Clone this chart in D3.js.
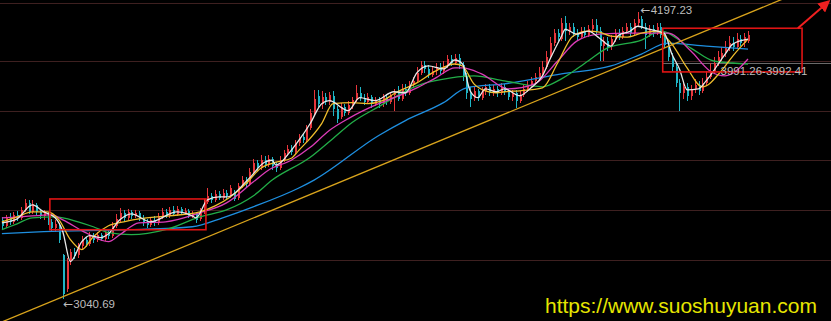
<!DOCTYPE html>
<html lang="zh">
<head>
<meta charset="utf-8">
<script src="https://d3js.org/d3.v7.min.js"></script>
<style>
  body { margin: 0; background: #000; }
  svg { display: block; }
</style>
</head>
<body>
<div id="chart"></div>
<script>
// daily candles (index points)
const open = [
  3360, 3336, 3368, 3352, 3380, 3368, 3400, 3428, 3392, 3420,
  3392, 3376, 3384, 3352, 3328, 3340, 3220, 3080, 3192, 3232,
  3220, 3256, 3280, 3264, 3296, 3280, 3300, 3284, 3312, 3296,
  3336, 3364, 3388, 3368, 3392, 3376, 3388, 3368, 3352, 3340,
  3360, 3348, 3376, 3392, 3376, 3400, 3384, 3404, 3388, 3396,
  3376, 3384, 3364, 3392, 3432, 3456, 3440, 3464, 3448, 3468,
  3456, 3472, 3448, 3496, 3520, 3504, 3552, 3588, 3568, 3600,
  3580, 3604, 3576, 3568, 3600, 3628, 3644, 3632, 3668, 3692,
  3680, 3728, 3792, 3860, 3828, 3856, 3836, 3860, 3808, 3776,
  3816, 3792, 3824, 3844, 3872, 3852, 3836, 3856, 3828, 3844,
  3828, 3856, 3836, 3864, 3872, 3848, 3888, 3872, 3904, 3920,
  3952, 3984, 3968, 3944, 3960, 3976, 3960, 3980, 4008, 3992,
  4012, 3984, 3940, 3872, 3852, 3880, 3852, 3880, 3896, 3872,
  3888, 3872, 3896, 3876, 3856, 3872, 3840, 3864, 3888, 3904,
  3920, 3936, 3952, 3976, 4016, 4072, 4112, 4088, 4152, 4120,
  4136, 4112, 4096, 4120, 4104, 4128, 4144, 4120, 4060, 4080,
  4056, 4088, 4112, 4096, 4120, 4136, 4112, 4152, 4168, 4136,
  4104, 4128, 4112, 4136, 4104, 4064, 4016, 3976, 3912, 3872,
  3896, 3860, 3888, 3904, 3880, 3912, 3936, 3960, 3992, 4016,
  4032, 4056, 4072, 4056, 4088, 4072, 4080
];
const close = [
  3336, 3368, 3352, 3380, 3368, 3400, 3428, 3392, 3424, 3392,
  3376, 3388, 3352, 3328, 3344, 3280, 3060, 3192, 3232, 3216,
  3256, 3280, 3264, 3296, 3280, 3300, 3284, 3312, 3296, 3336,
  3364, 3388, 3368, 3392, 3376, 3388, 3368, 3352, 3340, 3360,
  3348, 3376, 3392, 3376, 3400, 3384, 3404, 3388, 3396, 3376,
  3384, 3360, 3392, 3432, 3456, 3440, 3464, 3448, 3468, 3456,
  3488, 3444, 3496, 3520, 3504, 3552, 3588, 3568, 3600, 3580,
  3604, 3576, 3568, 3600, 3628, 3644, 3632, 3668, 3692, 3680,
  3728, 3792, 3848, 3828, 3856, 3836, 3864, 3808, 3768, 3816,
  3792, 3824, 3844, 3872, 3852, 3836, 3856, 3828, 3844, 3828,
  3856, 3836, 3864, 3872, 3848, 3888, 3872, 3904, 3920, 3952,
  3984, 3968, 3944, 3960, 3976, 3960, 3980, 4008, 3992, 4012,
  3984, 3940, 3872, 3848, 3880, 3852, 3880, 3896, 3872, 3888,
  3872, 3896, 3876, 3856, 3872, 3840, 3864, 3888, 3904, 3920,
  3936, 3952, 3976, 4016, 4072, 4112, 4096, 4152, 4120, 4136,
  4112, 4096, 4120, 4104, 4128, 4144, 4120, 4060, 4080, 4056,
  4088, 4112, 4096, 4120, 4136, 4112, 4152, 4168, 4136, 4104,
  4128, 4112, 4136, 4104, 4064, 4016, 3976, 3912, 3872, 3896,
  3860, 3888, 3904, 3880, 3912, 3936, 3960, 3992, 4016, 4032,
  4056, 4072, 4056, 4088, 4072, 4096, 4104
];
const high = [
  3372, 3380, 3388, 3392, 3396, 3412, 3444, 3440, 3440, 3428,
  3404, 3400, 3392, 3364, 3360, 3348, 3224, 3208, 3244, 3248,
  3268, 3296, 3292, 3312, 3308, 3312, 3308, 3324, 3320, 3352,
  3384, 3408, 3400, 3404, 3400, 3400, 3396, 3380, 3364, 3372,
  3376, 3388, 3408, 3404, 3412, 3416, 3416, 3412, 3408, 3404,
  3396, 3392, 3408, 3444, 3488, 3468, 3480, 3476, 3484, 3480,
  3500, 3480, 3508, 3536, 3532, 3568, 3604, 3600, 3620, 3616,
  3620, 3612, 3592, 3616, 3640, 3660, 3660, 3680, 3704, 3708,
  3744, 3808, 3884, 3884, 3880, 3872, 3876, 3880, 3820, 3832,
  3828, 3840, 3856, 3904, 3896, 3868, 3872, 3864, 3856, 3856,
  3868, 3868, 3876, 3888, 3900, 3908, 3908, 3920, 3936, 3976,
  4000, 4000, 3984, 3976, 3992, 3992, 4000, 4024, 4024, 4028,
  4028, 3996, 3952, 3896, 3896, 3888, 3896, 3908, 3908, 3904,
  3900, 3912, 3908, 3888, 3884, 3884, 3880, 3904, 3920, 3936,
  3952, 3976, 4000, 4040, 4096, 4128, 4128, 4172, 4180, 4152,
  4152, 4128, 4136, 4136, 4144, 4168, 4168, 4136, 4096, 4096,
  4104, 4128, 4128, 4136, 4152, 4152, 4168, 4197.23, 4180, 4152,
  4144, 4144, 4152, 4152, 4120, 4080, 4032, 3992, 3928, 3920,
  3912, 3904, 3928, 3920, 3932, 3960, 3992, 4016, 4040, 4056,
  4080, 4100, 4096, 4112, 4104, 4112, 4120
];
const low = [
  3324, 3328, 3340, 3344, 3356, 3360, 3392, 3384, 3384, 3380,
  3364, 3360, 3340, 3316, 3312, 3268, 3040.69, 3068, 3176, 3204,
  3208, 3244, 3252, 3256, 3268, 3272, 3276, 3276, 3284, 3288,
  3328, 3352, 3356, 3360, 3364, 3368, 3356, 3336, 3328, 3332,
  3336, 3340, 3364, 3368, 3368, 3376, 3376, 3380, 3380, 3368,
  3368, 3348, 3356, 3384, 3424, 3428, 3432, 3440, 3440, 3444,
  3448, 3436, 3440, 3488, 3492, 3496, 3544, 3556, 3560, 3568,
  3572, 3560, 3552, 3560, 3592, 3616, 3620, 3624, 3656, 3668,
  3672, 3720, 3784, 3816, 3808, 3824, 3824, 3780, 3752, 3768,
  3780, 3784, 3808, 3836, 3840, 3824, 3828, 3812, 3820, 3812,
  3816, 3824, 3828, 3800, 3840, 3840, 3860, 3864, 3892, 3912,
  3944, 3952, 3932, 3936, 3944, 3948, 3948, 3972, 3980, 3984,
  3968, 3920, 3848, 3816, 3840, 3840, 3844, 3864, 3860, 3860,
  3856, 3864, 3864, 3844, 3840, 3812, 3832, 3856, 3876, 3892,
  3908, 3924, 3940, 3968, 4008, 4060, 4080, 4080, 4080, 4104,
  4096, 4080, 4088, 4092, 4096, 4112, 4104, 4000, 4000, 4040,
  4044, 4076, 4084, 4088, 4108, 4100, 4104, 4136, 4128, 4048,
  4096, 4096, 4104, 4092, 4052, 4000, 3960, 3896, 3800, 3848,
  3840, 3844, 3872, 3864, 3872, 3900, 3928, 3952, 3980, 4000,
  4016, 4040, 4040, 4048, 4060, 4056, 4072
];

// moving averages as [candle index, value]
const ma5 = [[0,3348],[4,3364],[8,3420],[11,3392],[14,3368],[16,3312],[18,3192],[21,3272],[23,3296],[26,3288],
  [28,3304],[31,3360],[34,3384],[39,3352],[46,3392],[50,3376],[51,3368],[54,3440],[57,3452],[59,3452],
  [65,3528],[69,3592],[71,3600],[72,3580],[76,3640],[78,3680],[81,3748],[84,3828],[86,3840],[91,3800],
  [94,3852],[98,3840],[103,3876],[106,3872],[109,3952],[112,3980],[116,3968],[119,4004],[121,3988],[123,3880],
  [125,3852],[127,3888],[130,3876],[132,3888],[136,3860],[139,3892],[142,3940],[144,4008],[147,4100],[148,4128],
  [151,4108],[154,4120],[157,4092],[160,4060],[162,4104],[165,4120],[167,4140],[170,4128],[174,4112],[176,4028],
  [178,3968],[180,3884],[183,3888],[185,3920],[190,4028],[192,4068],[196,4088]];
const ma10 = [[0,3352],[4,3372],[8,3392],[12,3392],[15,3360],[18,3280],[21,3240],[24,3292],[28,3336],[32,3352],
  [36,3364],[44,3376],[52,3392],[56,3416],[60,3452],[64,3504],[68,3568],[72,3592],[76,3608],[78,3640],
  [84,3748],[87,3828],[92,3832],[96,3828],[100,3840],[103,3868],[109,3912],[114,3960],[119,3988],[121,3980],
  [124,3908],[127,3880],[130,3872],[132,3876],[136,3880],[142,3892],[146,3992],[150,4100],[154,4120],[157,4116],
  [160,4100],[164,4096],[168,4112],[172,4120],[176,4068],[180,3972],[184,3896],[189,3960],[192,4020],[196,4088]];
const ma20 = [[0,3368],[5,3372],[13,3380],[16,3360],[22,3308],[28,3272],[31,3300],[36,3348],[43,3352],[52,3388],
  [59,3428],[66,3512],[70,3560],[76,3600],[81,3652],[86,3720],[91,3768],[99,3828],[103,3852],[109,3892],
  [114,3932],[119,3972],[121,3972],[126,3948],[133,3888],[140,3908],[146,4000],[151,4080],[157,4108],[165,4112],
  [175,4112],[181,4040],[186,3960],[190,3940],[196,4008]];
const ma30 = [[0,3320],[4,3344],[8,3368],[14,3372],[20,3352],[24,3332],[28,3308],[34,3300],[43,3320],[52,3372],
  [59,3400],[66,3456],[71,3520],[81,3612],[87,3688],[92,3752],[99,3816],[109,3900],[118,3932],[124,3940],
  [132,3920],[142,3896],[147,3928],[154,4000],[159,4052],[168,4084],[173,4120],[181,4052],[187,4000],[192,3992],
  [196,3988]];
const ma60 = [[0,3304],[11,3312],[34,3320],[50,3332],[58,3368],[66,3412],[78,3488],[82,3520],[99,3700],[106,3760],
  [116,3832],[122,3892],[132,3908],[147,3948],[160,3980],[168,4028],[175,4072],[185,4060],[196,4048]];

const gridLevels = [3200, 3400, 3600, 3800, 4000];
const trend = [[-1, 2942], [205, 4249]];
const boxes = [
  { from: 12.6, to: 53.6, top: 3444, bottom: 3320 },
  { from: 173.6, to: 210.2, top: 4132, bottom: 3956 }
];
const arrowPts = [[209.1, 4132], [216.9, 4236]];
const gapLevel = { from: 173.6, value: 3992, text: "3991.26-3992.41" };
const highMark = { index: 167, value: 4197.23, text: "4197.23" };
const lowMark = { index: 16, value: 3040.69, text: "3040.69" };

const W = 831, H = 321;
const red = "#e8363c", cyan = "#1fb5c6";

const svg = d3.select("#chart").append("svg")
  .attr("width", W).attr("height", H)
  .style("background", "#000");

const x = d3.scaleLinear().domain([0, close.length - 1]).range([1.9, 748]);
const y = d3.scaleLinear().domain([3200, 4000]).range([259.5, 61]);

// grid lines
svg.append("g").selectAll("line")
  .data(gridLevels)
  .join("line")
    .attr("x1", 0).attr("x2", W)
    .attr("y1", d => Math.round(y(d)) + 0.5)
    .attr("y2", d => Math.round(y(d)) + 0.5)
    .attr("stroke", "#3e2020");
svg.append("line")
  .attr("x1", 0).attr("x2", W).attr("y1", 3.5).attr("y2", 3.5)
  .attr("stroke", "#3e2020");

// gray level line
svg.append("line")
  .attr("x1", x(gapLevel.from)).attr("x2", W)
  .attr("y1", Math.round(y(gapLevel.value)) + 0.5)
  .attr("y2", Math.round(y(gapLevel.value)) + 0.5)
  .attr("stroke", "#6a6a6a");

// candles
const idx = d3.range(close.length);
const cg = svg.append("g").attr("shape-rendering", "crispEdges");
const col = i => close[i] >= open[i] ? red : cyan;
cg.selectAll("line")
  .data(idx)
  .join("line")
    .attr("x1", i => Math.round(x(i)) + 0.5)
    .attr("x2", i => Math.round(x(i)) + 0.5)
    .attr("y1", i => y(high[i]))
    .attr("y2", i => y(low[i]))
    .attr("stroke", col);
cg.selectAll("rect")
  .data(idx)
  .join("rect")
    .attr("x", i => Math.round(x(i)) - 0.5)
    .attr("width", 2)
    .attr("y", i => y(Math.max(open[i], close[i])))
    .attr("height", i => Math.max(1, Math.abs(y(open[i]) - y(close[i]))))
    .attr("fill", col);

// moving averages
const maLine = d3.line()
  .x(d => x(d[0]))
  .y(d => y(d[1]))
  .curve(d3.curveMonotoneX);
const series = [
  { data: ma60, color: "#1e8fe0" },
  { data: ma30, color: "#22ae48" },
  { data: ma20, color: "#dc3cb8" },
  { data: ma10, color: "#f0be2c" },
  { data: ma5,  color: "#e8e8e8" }
];
svg.append("g").selectAll("path")
  .data(series)
  .join("path")
    .attr("d", d => maLine(d.data))
    .attr("fill", "none")
    .attr("stroke", d => d.color)
    .attr("stroke-width", 1.3);

// trend line
svg.append("path")
  .attr("d", d3.line().x(d => x(d[0])).y(d => y(d[1]))(trend))
  .attr("stroke", "#d9a41c")
  .attr("stroke-width", 1.3)
  .attr("fill", "none");

// boxes
svg.append("g").selectAll("rect")
  .data(boxes)
  .join("rect")
    .attr("x", d => x(d.from))
    .attr("y", d => y(d.top))
    .attr("width", d => x(d.to) - x(d.from))
    .attr("height", d => y(d.bottom) - y(d.top))
    .attr("fill", "none")
    .attr("stroke", "#e01414")
    .attr("stroke-width", 1.6);

// arrow
svg.append("defs").append("marker")
  .attr("id", "head")
  .attr("viewBox", "0 0 10 10")
  .attr("refX", 7).attr("refY", 5)
  .attr("markerWidth", 6).attr("markerHeight", 6)
  .attr("orient", "auto")
  .append("path")
    .attr("d", "M0,0L10,5L0,10Z")
    .attr("fill", "#f02020");
svg.append("line")
  .attr("x1", x(arrowPts[0][0])).attr("y1", y(arrowPts[0][1]))
  .attr("x2", x(arrowPts[1][0])).attr("y2", y(arrowPts[1][1]))
  .attr("stroke", "#f02020")
  .attr("stroke-width", 2)
  .attr("marker-end", "url(#head)");

// labels (arrow glyph in DejaVu, it is wider there)
const lab = svg.append("g")
  .style("font-family", "'Liberation Sans', Arial, sans-serif")
  .style("font-size", "11.5px")
  .attr("fill", "#bdbdbd");
function arrowLabel(px, py, txt) {
  const t = lab.append("text").attr("x", px).attr("y", py);
  t.append("tspan").style("font-family", "'DejaVu Sans', sans-serif").style("font-size", "12px").text("←");
  t.append("tspan").text(txt);
}
arrowLabel(x(highMark.index) + 3, y(highMark.value) + 1.5, highMark.text);
arrowLabel(x(lowMark.index) + 0.5, y(lowMark.value) + 8.5, lowMark.text);
lab.append("text")
  .attr("x", x(188) + 3)
  .attr("y", y(gapLevel.value) + 12.5)
  .text(gapLevel.text);

// watermark
svg.append("text")
  .attr("x", 545)
  .attr("y", 313)
  .style("font-family", "'Liberation Sans', Arial, sans-serif")
  .style("font-size", "21px")
  .attr("fill", "#e6e600")
  .text("https://www.suoshuyuan.com");
</script>
</body>
</html>
